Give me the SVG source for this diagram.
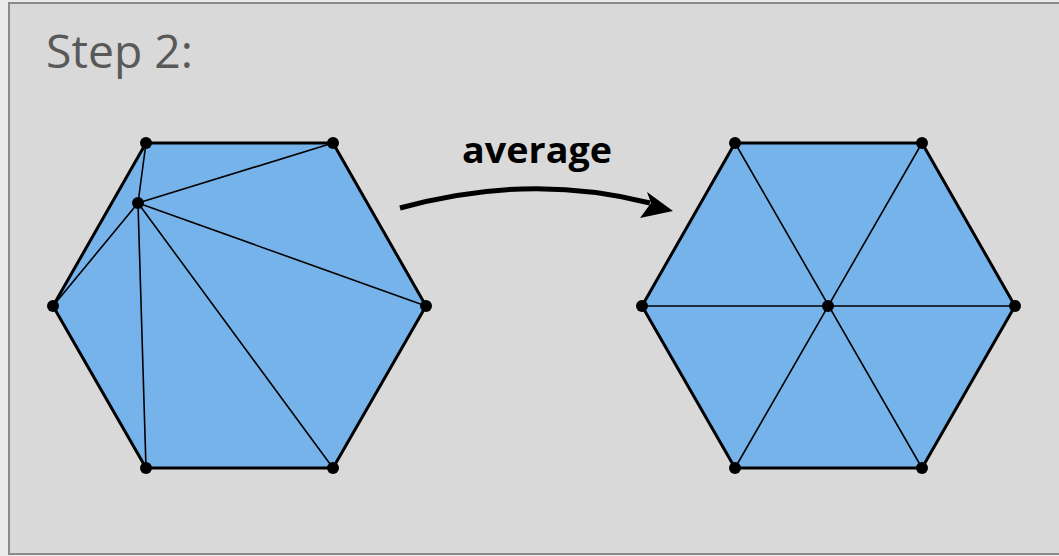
<svg xmlns="http://www.w3.org/2000/svg" width="1059" height="556" viewBox="0 0 1059 556">
<defs>
<style>
.hex{fill:#76b3ea;stroke:#000;stroke-width:3;stroke-linejoin:round}
.edge{stroke:#000;stroke-width:1.6;fill:none}
.dot{fill:#000}
.title{font-family:"Open Sans","Liberation Sans",sans-serif;font-size:45px;fill:#595959}
.lbl{font-family:"Open Sans","Liberation Sans",sans-serif;font-size:35px;font-weight:bold;fill:#000}
</style>
<marker id="ah" viewBox="0 0 10 10" refX="9" refY="5" markerWidth="7" markerHeight="7" markerUnits="userSpaceOnUse" orient="auto">
<path d="M0,0 L10,5 L0,10 L3,5 Z" fill="#000"/>
</marker>
</defs>
<rect x="0" y="0" width="1059" height="556" fill="#ebebeb"/>
<rect x="9" y="3" width="1060" height="551" fill="#d9d9d9" stroke="#8a8a8a" stroke-width="2"/>
<text class="title" x="46" y="68" textLength="147" lengthAdjust="spacingAndGlyphs">Step 2:</text>

<g id="hexagon-left">
<polygon class="hex" points="146,143 333,143 426,306 333,468 146,468 53,306"/>
<path class="edge" d="M138,203 L146,143 M138,203 L333,143 M138,203 L426,306 M138,203 L333,468 M138,203 L146,468 M138,203 L53,306"/>
<circle class="dot" cx="146" cy="143" r="6"/>
<circle class="dot" cx="333" cy="143" r="6"/>
<circle class="dot" cx="426" cy="306" r="6"/>
<circle class="dot" cx="333" cy="468" r="6"/>
<circle class="dot" cx="146" cy="468" r="6"/>
<circle class="dot" cx="53" cy="306" r="6"/>
<circle class="dot" cx="138" cy="203" r="6"/>
</g>

<g id="hexagon-right">
<polygon class="hex" points="735,143 922,143 1015,306 922,468 735,468 642,306"/>
<path class="edge" d="M735,143 L922,468 M922,143 L735,468 M642,306 L1015,306"/>
<circle class="dot" cx="735" cy="143" r="6"/>
<circle class="dot" cx="922" cy="143" r="6"/>
<circle class="dot" cx="1015" cy="306" r="6"/>
<circle class="dot" cx="922" cy="468" r="6"/>
<circle class="dot" cx="735" cy="468" r="6"/>
<circle class="dot" cx="642" cy="306" r="6"/>
<circle class="dot" cx="828" cy="306" r="6"/>
</g>

<g id="connectors">
<path d="M400,208 Q530,172 650,203" fill="none" stroke="#000" stroke-width="5"/>
<path d="M673,211 L647,192 L651,203 L640,218 Z" fill="#000"/>
<text class="lbl" x="537" y="163" text-anchor="middle" textLength="150" lengthAdjust="spacingAndGlyphs">average</text>
</g>
</svg>
